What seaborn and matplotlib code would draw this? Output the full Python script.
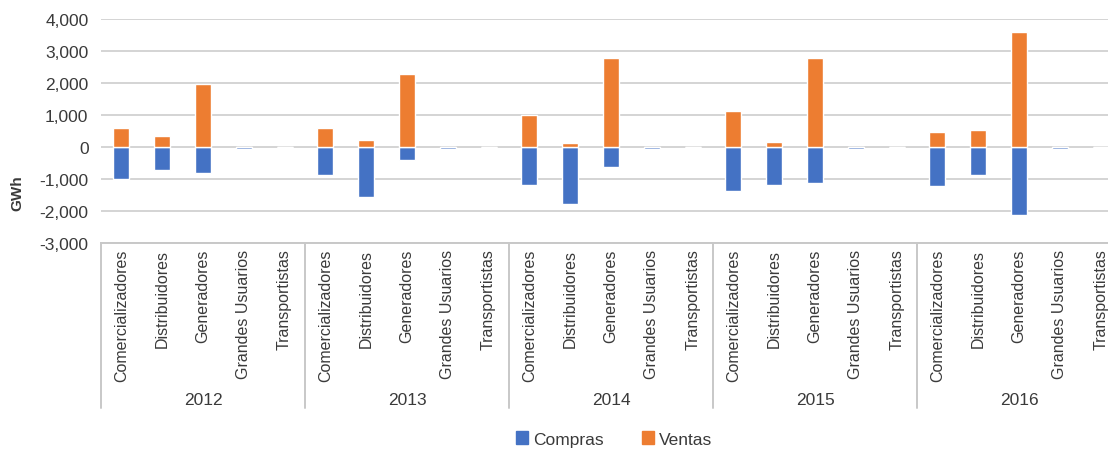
import matplotlib
matplotlib.use("Agg")
import matplotlib.pyplot as plt
import matplotlib.transforms as mtransforms
from matplotlib.patches import Patch
import seaborn as sns
import pandas as pd

years = ["2012", "2013", "2014", "2015", "2016"]
agents = ["Comercializadores", "Distribuidores", "Generadores", "Grandes Usuarios", "Transportistas"]
compras = [
    -1000, -730, -820, -75, -10,     # 2012
    -870, -1550, -410, -50, -10,     # 2013
    -1190, -1780, -610, -50, -10,    # 2014
    -1390, -1180, -1130, -50, -10,   # 2015
    -1220, -880, -2120, -60, -10,    # 2016
]
ventas = [
    580, 350, 1980, 0, 0,
    600, 230, 2280, 0, 0,
    990, 125, 2790, 0, 0,
    1120, 165, 2770, 0, 0,
    480, 545, 3590, 0, 0,
]
yticks = [-3000, -2000, -1000, 0, 1000, 2000, 3000, 4000]

BLUE = "#4472C4"
ORANGE = "#ED7D31"
TXT = "#3a3a3a"

sns.set_theme(style="white")
plt.rcParams["font.family"] = ["Liberation Sans", "DejaVu Sans"]

keys = [f"{y}|{a}" for y in years for a in agents]
df = pd.DataFrame({
    "key": keys * 2,
    "value": compras + ventas,
    "serie": ["Compras"] * len(keys) + ["Ventas"] * len(keys),
})

W, H = 1108, 452
fig = plt.figure(figsize=(W / 100, H / 100), dpi=100)
ax = fig.add_axes([101 / W, 1 - 244 / H, (W - 101) / W, 224 / H])

sns.barplot(data=df, x="key", y="value", hue="serie", order=keys,
            hue_order=["Compras", "Ventas"], palette=[BLUE, ORANGE],
            dodge=False, width=0.39, ax=ax, legend=False, saturation=1)

ax.set_ylim(-3000, 4000)
ax.set_xlim(-0.5, len(keys) - 0.5 - 0.32)
ax.set_yticks(yticks)
ax.set_yticklabels([f"{v:,}" for v in yticks], fontsize=12.5, color=TXT)
ax.yaxis.grid(True, color="#d4d4d4", lw=1.4)
ax.set_axisbelow(True)
for s in ["top", "right", "left"]:
    ax.spines[s].set_visible(False)
ax.spines["bottom"].set_color("#c8c8c8")
ax.spines["bottom"].set_linewidth(1.4)
ax.tick_params(axis="y", length=0, pad=9)
ax.tick_params(axis="x", length=0, pad=4)
ax.set_xticks(range(len(keys)))
ax.set_xticklabels(agents * len(years), rotation=90, fontsize=11.5, color=TXT, va="top")
ax.set_xlabel("")
ax.set_ylabel("")

trans = mtransforms.blended_transform_factory(ax.transData, ax.transAxes)
n = len(agents)
for i in range(len(years) + 1):
    xb = i * n - 0.5
    ax.plot([xb, xb], [0, -0.735], transform=trans, color="#c8c8c8", lw=1.4, clip_on=False)
for i, y in enumerate(years):
    ax.text(i * n + (n - 1) / 2, -0.70, y, transform=trans, ha="center", va="center",
            fontsize=12.5, color=TXT)

fig.text(17 / W, 1 - 193 / H, "GWh", rotation=90, ha="center", va="center",
         fontsize=11, fontweight="bold", color=TXT)

handles = [Patch(color=BLUE, label="Compras"), Patch(color=ORANGE, label="Ventas")]
fig.legend(handles=handles, loc="center", bbox_to_anchor=(614 / W, 1 - 440 / H), ncol=2,
           frameon=False, fontsize=12.5, handlelength=0.7, handleheight=0.7,
           handletextpad=0.3, columnspacing=2.2, labelcolor=TXT)

fig.savefig("out.png", dpi=100)
